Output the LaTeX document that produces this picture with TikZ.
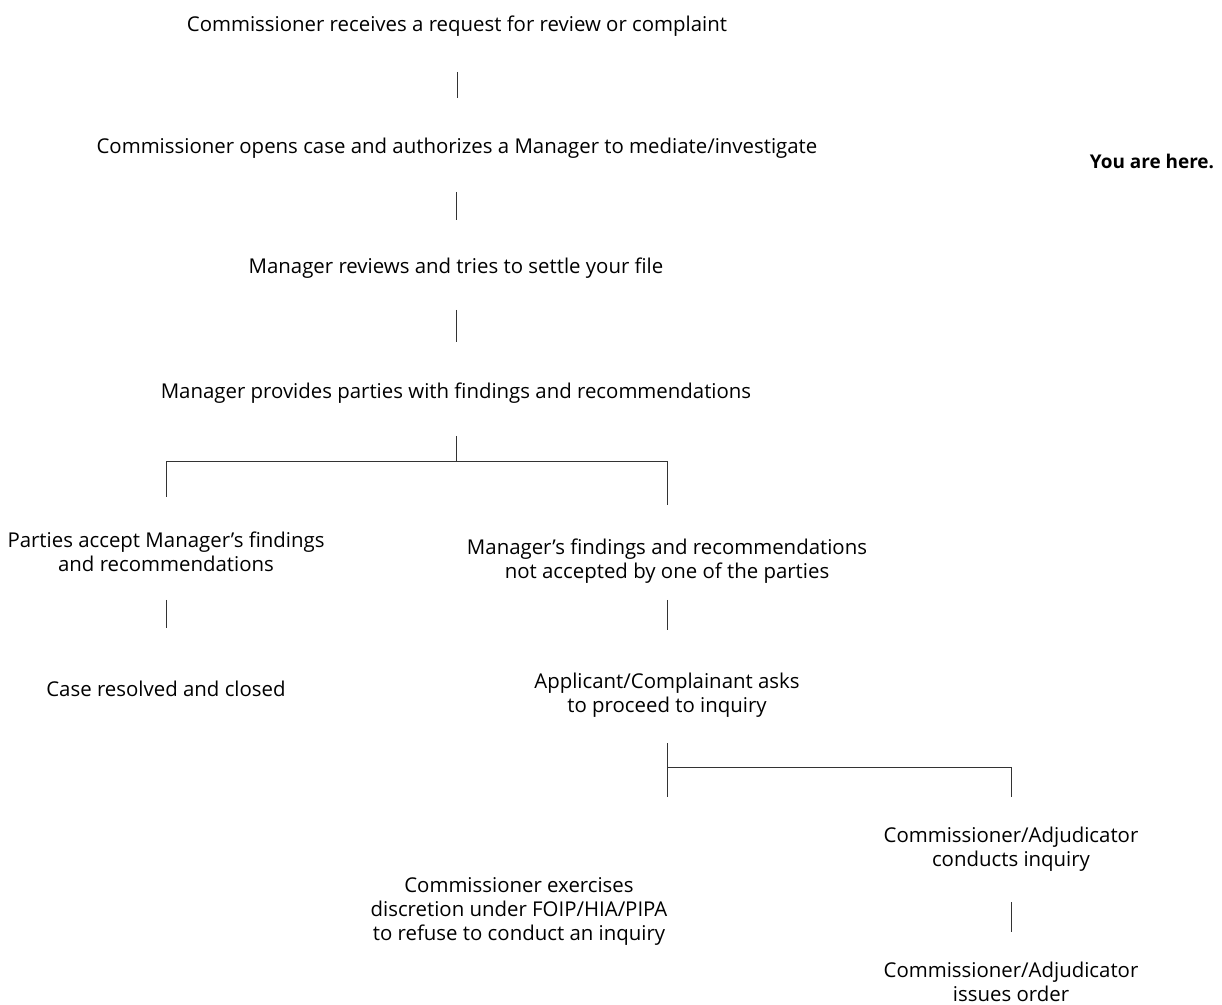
\documentclass[tikz,border=0pt]{standalone}
\usepackage{fontspec}
\setmainfont{Open Sans}
\usepackage{tikz}
\usetikzlibrary{positioning}

\begin{document}
\begin{tikzpicture}[x=0.75pt, y=-0.75pt,
  stage/.style={inner sep=0pt, align=center, font=\fontsize{15.3}{18}\selectfont},
  link/.style={draw=black!80, line width=0.7pt}]
\useasboundingbox (0,0) rectangle (1222,1005);

\node[stage] (n1) at (457,26) {Commissioner receives a request for review or complaint};
\node[stage] (n2) at (457,148) {Commissioner opens case and authorizes a Manager to mediate/investigate};
\node[stage] (n3) at (456,268) {Manager reviews and tries to settle your file};
\node[stage] (n4) at (456,393) {Manager provides parties with findings and recommendations};
\node[stage] (n5) at (166,552) {Parties accept Manager's findings\\and recommendations};
\node[stage] (n6) at (667,561) {Manager's findings and recommendations\\not accepted by one of the parties};
\node[stage] (n7) at (166,689) {Case resolved and closed};
\node[stage] (n8) at (667,695) {Applicant/Complainant asks\\to proceed to inquiry};
\node[stage] (n9) at (519,911) {Commissioner exercises\\discretion under FOIP/HIA/PIPA\\to refuse to conduct an inquiry};
\node[stage] (n10) at (1011,849) {Commissioner/Adjudicator\\conducts inquiry};
\node[stage] (n11) at (1011,982) {Commissioner/Adjudicator\\issues order};
\node[stage, font=\fontsize{14.2}{18}\selectfont\bfseries] (here) at (1152,161) {You are here.};

\coordinate (fork1) at (456,461);
\coordinate (fork2) at (667,767);
\coordinate (drop9) at (667,797);

% main line
\draw[link, shorten <=34.5pt, shorten >=37.5pt] (n1.center) -- (n2.center);
\draw[link, shorten <=33pt, shorten >=36pt] (n2.center -| n3.center) -- (n3.center);
\draw[link, shorten <=31.5pt, shorten >=38.25pt] (n3.center) -- (n4.center);
\draw[link, shorten <=32.25pt] (n4.center) -- (fork1);

% first split
\draw[link, shorten >=41.25pt] (fork1) -| (n5.center);
\draw[link, shorten >=42pt] (fork1) -| (n6.center);
\draw[link, shorten <=36pt, shorten >=45.75pt] (n5.center) -- (n7.center);
\draw[link, shorten <=29.25pt, shorten >=48.75pt] (n6.center) -- (n8.center);

% second split
\draw[link, shorten <=36pt] (n8.center) -- (drop9);
\draw[link, shorten >=39pt] (fork2) -| (n10.center);
\draw[link, shorten <=39.75pt, shorten >=37.5pt] (n10.center) -- (n11.center);
\end{tikzpicture}
\end{document}
